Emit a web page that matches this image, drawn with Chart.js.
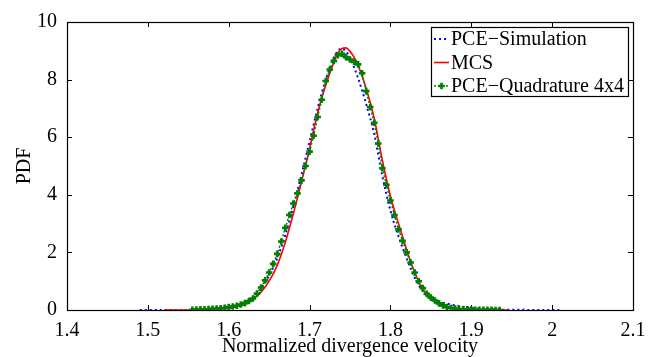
<!DOCTYPE html>
<html>
<head>
<meta charset="utf-8">
<script src="https://cdn.jsdelivr.net/npm/chart.js@4"></script>
<style>
  html, body { margin: 0; padding: 0; background: #fff; }
  #wrap { width: 657px; height: 357px; }
</style>
</head>
<body>
<div id="wrap"><canvas id="pdfChart" width="657" height="357"></canvas></div>
<script>
// Axis ticks
const xTicks = [1.4, 1.5, 1.6, 1.7, 1.8, 1.9, 2.0, 2.1];
const yTicks = [0, 2, 4, 6, 8, 10];

// PCE-Simulation (blue dotted)
const simX = [1.49, 1.52, 1.55, 1.57, 1.58, 1.59, 1.60, 1.61, 1.62, 1.63, 1.64, 1.65, 1.66, 1.67, 1.68, 1.69,
  1.70, 1.71, 1.72, 1.73, 1.735, 1.74, 1.745, 1.75, 1.76, 1.77, 1.78, 1.79, 1.80, 1.81, 1.82, 1.83, 1.84,
  1.85, 1.86, 1.87, 1.88, 1.89, 1.90, 1.91, 1.92, 1.94, 1.97, 2.01];
const simY = [0, 0, 0.003, 0.01, 0.02, 0.04, 0.07, 0.13, 0.24, 0.43, 0.75, 1.2, 1.8, 2.6, 3.6, 4.7,
  5.85, 7.0, 8.0, 8.75, 9.0, 9.07, 8.98, 8.75, 8.05, 7.15, 6.1, 4.65, 3.45, 2.55, 1.8, 1.12, 0.66,
  0.42, 0.3, 0.22, 0.16, 0.11, 0.07, 0.045, 0.03, 0.012, 0.004, 0];

// MCS (red solid)
const mcsX = [1.52, 1.55, 1.57, 1.58, 1.59, 1.60, 1.61, 1.62, 1.63, 1.64, 1.65, 1.66, 1.67, 1.68, 1.69,
  1.70, 1.71, 1.72, 1.73, 1.735, 1.74, 1.745, 1.75, 1.755, 1.76, 1.77, 1.78, 1.79, 1.80, 1.81, 1.82,
  1.83, 1.84, 1.85, 1.86, 1.87, 1.88, 1.89, 1.90, 1.92, 1.945];
const mcsY = [0, 0.002, 0.01, 0.02, 0.035, 0.06, 0.11, 0.2, 0.38, 0.62, 1.0, 1.55, 2.35, 3.35, 4.45,
  5.6, 6.85, 7.8, 8.6, 8.92, 9.08, 9.1, 8.98, 8.78, 8.5, 7.7, 6.65, 5.2, 3.95, 3.0, 2.1,
  1.3, 0.72, 0.42, 0.22, 0.1, 0.05, 0.025, 0.012, 0.004, 0];

// PCE-Quadrature 4x4 (green markers)
const quadX = [1.555, 1.56, 1.565, 1.57, 1.575, 1.58, 1.585, 1.59, 1.595, 1.60, 1.605, 1.61, 1.615, 1.62,
  1.625, 1.63, 1.635, 1.64, 1.645, 1.65, 1.655, 1.66, 1.665, 1.67, 1.675, 1.68, 1.685, 1.69, 1.695, 1.70,
  1.705, 1.71, 1.715, 1.72, 1.725, 1.73, 1.735, 1.74, 1.745, 1.75, 1.755, 1.76, 1.765, 1.77, 1.775, 1.78,
  1.785, 1.79, 1.795, 1.80, 1.805, 1.81, 1.815, 1.82, 1.825, 1.83, 1.835, 1.84, 1.845, 1.85, 1.855, 1.86,
  1.865, 1.87, 1.875, 1.88, 1.885, 1.89, 1.895, 1.90, 1.905, 1.91, 1.915, 1.92, 1.925, 1.93, 1.935];
const quadY = [0.01, 0.015, 0.02, 0.025, 0.03, 0.04, 0.05, 0.06, 0.08, 0.1, 0.12, 0.15, 0.19, 0.24,
  0.31, 0.4, 0.57, 0.78, 1.03, 1.3, 1.6, 1.95, 2.38, 2.85, 3.3, 3.7, 4.05, 4.5, 5.0, 5.5,
  6.05, 6.7, 7.3, 7.95, 8.35, 8.65, 8.85, 8.9, 8.78, 8.7, 8.62, 8.53, 8.22, 7.6, 7.05, 6.5,
  5.78, 4.92, 4.35, 3.8, 3.3, 2.8, 2.4, 2.0, 1.65, 1.3, 1.0, 0.76, 0.56, 0.43, 0.33, 0.23,
  0.16, 0.1, 0.07, 0.05, 0.035, 0.025, 0.02, 0.015, 0.01, 0.008, 0.006, 0.004, 0.003, 0.002, 0.001];

const toPoints = (xs, ys) => xs.map((x, i) => ({ x: x, y: ys[i] }));
const fmt = v => String(Math.round(v * 10) / 10);

Chart.defaults.font.family = "'Liberation Serif', 'DejaVu Serif', serif";
Chart.defaults.font.size = 20;
Chart.defaults.color = '#000';

// box + inward ticks on all four sides (MATLAB style)
const frame = {
  id: 'frame',
  beforeDatasetsDraw(chart) {
    const { ctx, chartArea: a, scales } = chart;
    const t = 5;
    ctx.save();
    ctx.strokeStyle = '#000';
    ctx.lineWidth = 1;
    ctx.beginPath();
    xTicks.forEach(v => {
      const px = Math.round(scales.x.getPixelForValue(v)) + 0.5;
      ctx.moveTo(px, a.bottom); ctx.lineTo(px, a.bottom - t);
      ctx.moveTo(px, a.top); ctx.lineTo(px, a.top + t);
    });
    yTicks.forEach(v => {
      const py = Math.round(scales.y.getPixelForValue(v)) + 0.5;
      ctx.moveTo(a.left, py); ctx.lineTo(a.left + t, py);
      ctx.moveTo(a.right, py); ctx.lineTo(a.right - t, py);
    });
    ctx.stroke();
    ctx.lineWidth = 1.2;
    ctx.strokeRect(Math.round(a.left) + 0.5, Math.round(a.top) + 0.5,
      Math.round(a.right - a.left), Math.round(a.bottom - a.top));
    ctx.restore();
  }
};

// legend box in the upper right corner
const legendBox = {
  id: 'legendBox',
  afterDatasetsDraw(chart) {
    const { ctx, chartArea: a } = chart;
    const w = 197, h = 69, rowH = 23.5;
    const x0 = Math.round(a.right - 5 - w), y0 = Math.round(a.top + 5);
    ctx.save();
    ctx.fillStyle = '#fff';
    ctx.fillRect(x0, y0, w, h);
    ctx.strokeStyle = '#000';
    ctx.lineWidth = 1.2;
    ctx.strokeRect(x0 + 0.5, y0 + 0.5, w, h);
    ctx.font = "20px 'Liberation Serif', serif";
    ctx.textBaseline = 'middle';
    chart.data.datasets.forEach((ds, i) => {
      const cy = y0 + 12 + i * rowH;
      ctx.strokeStyle = ds.borderColor;
      ctx.lineWidth = ds.borderWidth;
      ctx.setLineDash(ds.borderDash || []);
      ctx.beginPath();
      ctx.moveTo(x0 + 3, cy); ctx.lineTo(x0 + 18, cy);
      ctx.stroke();
      ctx.setLineDash([]);
      if (ds.pointRadius > 0) {
        const mx = x0 + 10.5, r = ds.pointRadius;
        ctx.lineWidth = ds.pointBorderWidth;
        ctx.beginPath();
        ctx.moveTo(mx - r, cy); ctx.lineTo(mx + r, cy);
        ctx.moveTo(mx, cy - r); ctx.lineTo(mx, cy + r);
        ctx.stroke();
      }
      ctx.fillStyle = '#000';
      ctx.fillText(ds.label, x0 + 20, cy + 1);
    });
    ctx.restore();
  }
};

new Chart(document.getElementById('pdfChart'), {
  type: 'line',
  data: {
    datasets: [
      {
        label: 'PCE\u2212Simulation',
        data: toPoints(simX, simY),
        borderColor: '#0000ff',
        borderWidth: 2,
        borderDash: [2, 3],
        pointRadius: 0,
        cubicInterpolationMode: 'monotone',
        order: 3
      },
      {
        label: 'MCS',
        data: toPoints(mcsX, mcsY),
        borderColor: '#ff0000',
        borderWidth: 1.6,
        pointRadius: 0,
        cubicInterpolationMode: 'monotone',
        order: 2
      },
      {
        label: 'PCE\u2212Quadrature 4x4',
        data: toPoints(quadX, quadY),
        borderColor: '#008000',
        borderWidth: 1.5,
        borderDash: [2, 2],
        pointStyle: 'cross',
        pointRadius: 3.3,
        pointBorderWidth: 2.6,
        pointBorderColor: '#008000',
        pointBackgroundColor: '#008000',
        order: 1
      }
    ]
  },
  options: {
    responsive: false,
    animation: false,
    layout: { padding: { top: 19, right: 24, left: 0, bottom: 0 } },
    plugins: {
      legend: { display: false },
      tooltip: { enabled: false }
    },
    scales: {
      x: {
        type: 'linear',
        min: 1.4,
        max: 2.1,
        afterBuildTicks: s => { s.ticks = xTicks.map(v => ({ value: v })); },
        afterFit: s => { s.height = 47; },
        ticks: { callback: v => fmt(v), padding: 9, maxRotation: 0, autoSkip: false },
        grid: { display: false, drawTicks: false },
        border: { display: false },
        title: {
          display: true,
          text: 'Normalized divergence velocity',
          font: { lineHeight: 1.0 },
          padding: { top: 0, bottom: 0 }
        }
      },
      y: {
        type: 'linear',
        min: 0,
        max: 10,
        afterBuildTicks: s => { s.ticks = yTicks.map(v => ({ value: v })); },
        afterFit: s => { s.width = 67; },
        ticks: { callback: v => fmt(v), padding: 10 },
        grid: { display: false, drawTicks: false },
        border: { display: false },
        title: { display: true, text: 'PDF', padding: { top: 13, bottom: 0 } }
      }
    }
  },
  plugins: [frame, legendBox]
});
</script>
</body>
</html>
